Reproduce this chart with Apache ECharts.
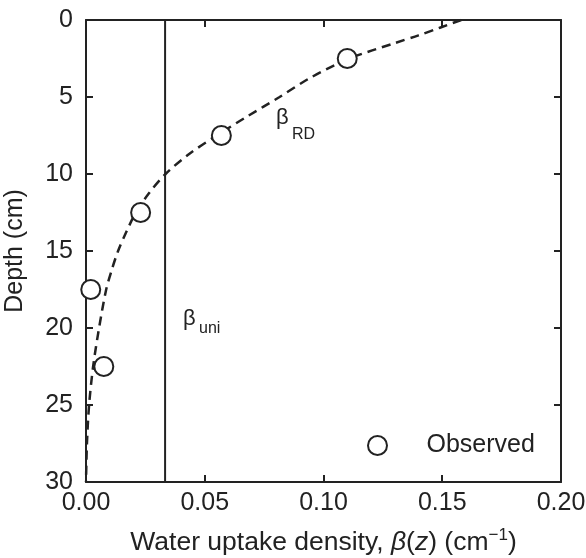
<!DOCTYPE html>
<html>
<head>
<meta charset="utf-8">
<script src="https://cdn.jsdelivr.net/npm/echarts@6/dist/echarts.min.js"></script>
<style>
  html, body { margin: 0; padding: 0; background: #fff; }
  #chart { width: 586px; height: 558px; }
</style>
</head>
<body>
<div id="chart"></div>
<script>
// depth (cm) vs water uptake density (cm^-1)
var rdDepth = [0, 0.5, 1, 1.5, 2.5, 3.75, 5, 6.25, 7.5, 8.75, 10, 11.25, 12.5, 13.75, 15, 16.25, 17.5, 20, 22.5, 25, 27.5, 30];
var rdBeta = [0.158, 0.149, 0.140, 0.130, 0.111, 0.0945, 0.0815, 0.068, 0.055, 0.043, 0.0335, 0.0265, 0.021, 0.017, 0.0135, 0.0108, 0.0085, 0.0055, 0.003, 0.0013, 0.0004, 0];
var uniBeta = 0.0333;
var uniDepth = [0, 30];
var obsDepth = [2.5, 7.5, 12.5, 17.5, 22.5];
var obsBeta = [0.110, 0.057, 0.023, 0.002, 0.0075];
var xTicks = { min: 0, max: 0.2, step: 0.05 };
var yTicks = { min: 0, max: 30, step: 5 };

var ink = '#222';
var font = 'Liberation Sans';

var chart = echarts.init(document.getElementById('chart'));

function pairs(xs, ys) {
  return xs.map(function (x, i) { return [x, ys[i]]; });
}

var axisCommon = {
  type: 'value',
  axisLine: { show: true, onZero: false, lineStyle: { color: ink, width: 2 } },
  axisTick: { show: true, inside: true, length: 7, lineStyle: { color: ink, width: 2 } },
  splitLine: { show: false }
};

chart.setOption({
  animation: false,
  grid: { left: 86, right: 25, top: 20, bottom: 76, outerBoundsMode: 'none' },
  legend: {
    data: ['Observed'],
    left: 362,
    top: 428,
    itemWidth: 20,
    itemHeight: 19,
    textStyle: { fontFamily: font, fontSize: 25, color: ink, padding: [0, 0, 0, 34] }
  },
  xAxis: [
    Object.assign({}, axisCommon, {
      position: 'bottom',
      min: xTicks.min, max: xTicks.max, interval: xTicks.step,
      axisLabel: {
        fontFamily: font, fontSize: 25, color: ink, margin: 9,
        showMinLabel: true, showMaxLabel: true,
        formatter: function (v) { return v.toFixed(2); }
      },
      name: '{n|Water uptake density, }{i|β}{n|(}{i|z}{n|) (cm}{sup|−1}{n|)}',
      nameLocation: 'middle',
      nameGap: 45,
      nameTextStyle: {
        rich: {
          n: { fontFamily: font, fontSize: 26.5, color: ink, lineHeight: 31 },
          i: { fontFamily: font, fontSize: 26.5, color: ink, fontStyle: 'italic', lineHeight: 31 },
          sup: { fontFamily: font, fontSize: 17, color: ink, lineHeight: 17, verticalAlign: 'top' }
        }
      }
    }),
    Object.assign({}, axisCommon, {
      position: 'top',
      min: xTicks.min, max: xTicks.max, interval: xTicks.step,
      axisLabel: { show: false }
    })
  ],
  yAxis: [
    Object.assign({}, axisCommon, {
      position: 'left',
      inverse: true,
      min: yTicks.min, max: yTicks.max, interval: yTicks.step,
      axisLabel: {
        fontFamily: font, fontSize: 25, color: ink, margin: 13,
        showMinLabel: true, showMaxLabel: true
      },
      name: 'Depth (cm)',
      nameLocation: 'middle',
      nameGap: 58,
      nameTextStyle: { fontFamily: font, fontSize: 25, color: ink }
    }),
    Object.assign({}, axisCommon, {
      position: 'right',
      inverse: true,
      min: yTicks.min, max: yTicks.max, interval: yTicks.step,
      axisLabel: { show: false }
    })
  ],
  series: [
    {
      name: 'RD',
      type: 'line',
      data: pairs(rdBeta, rdDepth),
      smooth: 0.3,
      symbol: 'none',
      lineStyle: { color: ink, width: 2.5, type: [9, 6] },
      z: 3
    },
    {
      name: 'uni',
      type: 'line',
      data: pairs([uniBeta, uniBeta], uniDepth),
      symbol: 'none',
      lineStyle: { color: ink, width: 2 },
      z: 2
    },
    {
      name: 'Observed',
      type: 'scatter',
      data: pairs(obsBeta, obsDepth),
      symbol: 'emptyCircle',
      symbolSize: 19,
      itemStyle: { color: ink, borderColor: ink, borderWidth: 2.8, opacity: 1 },
      z: 4
    }
  ],
  graphic: [
    { type: 'text', left: 276, top: 107, style: { text: 'β', font: '22px ' + font, fill: ink } },
    { type: 'text', left: 292, top: 127, style: { text: 'RD', font: '16px ' + font, fill: ink } },
    { type: 'text', left: 183, top: 308, style: { text: 'β', font: '22px ' + font, fill: ink } },
    { type: 'text', left: 199, top: 321, style: { text: 'uni', font: '16px ' + font, fill: ink } }
  ]
});
</script>
</body>
</html>
